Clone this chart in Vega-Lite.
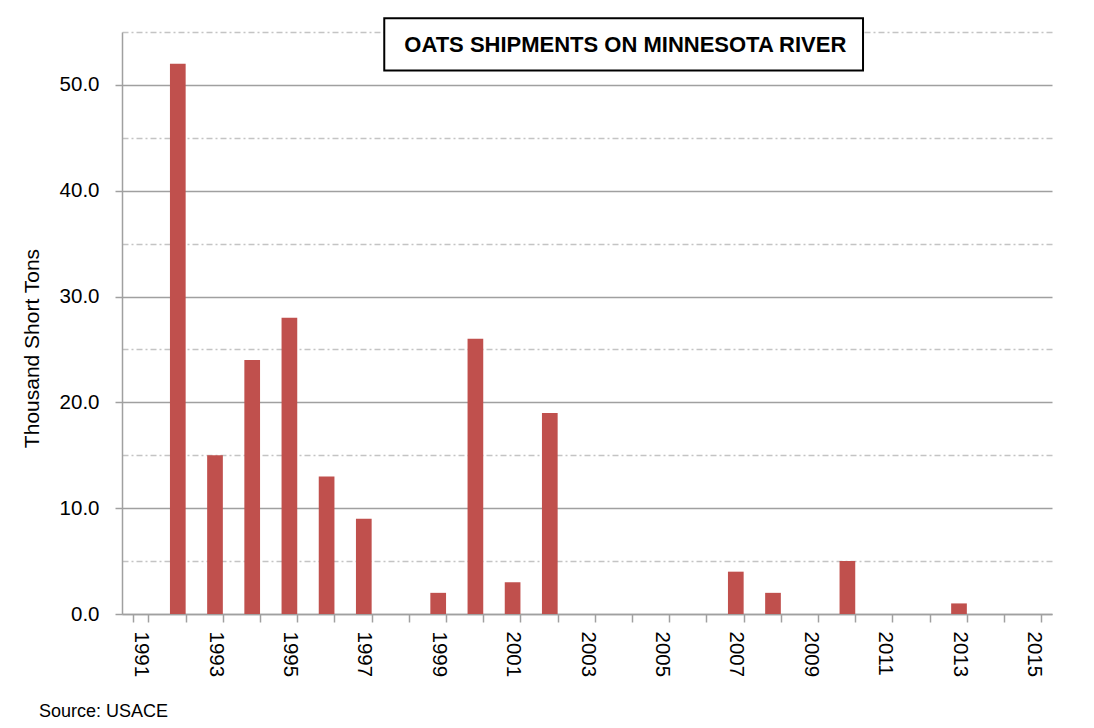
{
  "$schema": "https://vega.github.io/schema/vega-lite/v6.json",
  "width": 930,
  "height": 582,
  "autosize": {"type": "none"},
  "padding": {"left": 122, "top": 32, "right": 42, "bottom": 114},
  "background": "white",
  "config": {"view": {"stroke": null}, "font": "Liberation Sans"},
  "title": {"text": "Source:  USACE", "orient": "bottom", "anchor": "start", "frame": "group", "dx": -83, "offset": 26, "fontSize": 18, "fontWeight": "normal", "color": "#000000", "font": "Liberation Sans"},
  "data": {"values": [
    {"year": 1991, "tons": 0},
    {"year": 1992, "tons": 52},
    {"year": 1993, "tons": 15},
    {"year": 1994, "tons": 24},
    {"year": 1995, "tons": 28},
    {"year": 1996, "tons": 13},
    {"year": 1997, "tons": 9},
    {"year": 1998, "tons": 0},
    {"year": 1999, "tons": 2},
    {"year": 2000, "tons": 26},
    {"year": 2001, "tons": 3},
    {"year": 2002, "tons": 19},
    {"year": 2003, "tons": 0},
    {"year": 2004, "tons": 0},
    {"year": 2005, "tons": 0},
    {"year": 2006, "tons": 0},
    {"year": 2007, "tons": 4},
    {"year": 2008, "tons": 2},
    {"year": 2009, "tons": 0},
    {"year": 2010, "tons": 5},
    {"year": 2011, "tons": 0},
    {"year": 2012, "tons": 0},
    {"year": 2013, "tons": 1},
    {"year": 2014, "tons": 0},
    {"year": 2015, "tons": 0}
  ]},
  "layer": [
    {
      "mark": {"type": "bar", "color": "#c0504d"},
      "encoding": {
        "x": {
          "field": "year", "type": "ordinal",
          "scale": {"paddingInner": 0.578, "paddingOuter": 0.289},
          "axis": {
            "title": null, "labelAngle": 90, "labelAlign": "left", "labelBaseline": "middle",
            "labelFontSize": 20.5, "labelColor": "#000000", "labelPadding": 9,
            "labelExpr": "datum.value % 2 === 1 ? datum.label : ''", "labelOverlap": false,
            "tickBand": "extent", "tickSize": 8, "tickColor": "#a0a0a0", "tickWidth": 1.5,
            "domainColor": "#a0a0a0", "domainWidth": 1.5, "grid": false
          }
        },
        "y": {
          "field": "tons", "type": "quantitative",
          "scale": {"domain": [0, 55], "nice": false},
          "axis": {
            "values": [0, 5, 10, 15, 20, 25, 30, 35, 40, 45, 50, 55],
            "labelExpr": "datum.value % 10 === 0 ? format(datum.value, '.1f') : ''",
            "labelOverlap": false,
            "title": "Thousand Short Tons", "titleFontSize": 21, "titleFontWeight": "normal", "titleColor": "#000000",
            "titleAngle": -90, "titleX": -84, "titleY": 316, "titleAlign": "center", "titleBaseline": "alphabetic",
            "labelFontSize": 20.5, "labelColor": "#000000", "labelPadding": 16,
            "tickSize": 7, "tickColor": "#a0a0a0", "tickWidth": 1.5,
            "tickOpacity": {"condition": {"test": "datum.value % 10 === 0", "value": 1}, "value": 0},
            "domainColor": "#a0a0a0", "domainWidth": 1.5,
            "grid": true,
            "gridColor": {"condition": {"test": "datum.value % 10 === 0", "value": "#a0a0a0"}, "value": "#c4c4c4"},
            "gridDash": {"condition": {"test": "datum.value % 10 === 0", "value": []}, "value": [6, 3, 2, 3]},
            "gridWidth": 1.3
          }
        }
      }
    },
    {
      "data": {"values": [{}]},
      "mark": {"type": "rect", "fill": "white", "stroke": "black", "strokeWidth": 2},
      "encoding": {
        "x": {"datum": 1997.55, "type": "quantitative", "scale": {"domain": [1990.5, 2015.5], "nice": false, "zero": false}, "axis": null},
        "x2": {"datum": 2010.42},
        "y": {"datum": 56.3, "type": "quantitative"},
        "y2": {"datum": 51.35}
      }
    },
    {
      "data": {"values": [{}]},
      "mark": {"type": "text", "text": "OATS SHIPMENTS ON MINNESOTA RIVER", "fontSize": 22, "fontWeight": "bold", "align": "center", "baseline": "middle", "color": "#000000", "font": "Liberation Sans"},
      "encoding": {
        "x": {"datum": 2004.03, "type": "quantitative", "scale": {"domain": [1990.5, 2015.5], "nice": false, "zero": false}, "axis": null},
        "y": {"datum": 53.8, "type": "quantitative"}
      }
    }
  ],
  "resolve": {"scale": {"x": "independent"}, "axis": {"x": "independent"}}
}
